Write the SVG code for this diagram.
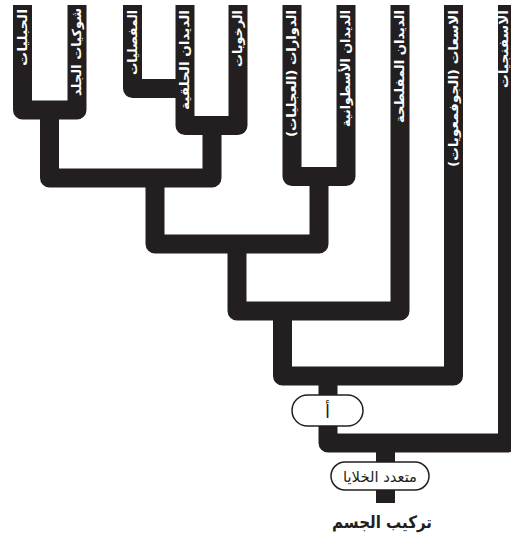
<svg xmlns="http://www.w3.org/2000/svg" width="511" height="542" viewBox="0 0 511 542">
<style>
.ln{fill:none;stroke:#231f20;stroke-width:19;stroke-linejoin:round;stroke-linecap:butt}
.lbl{font-family:"DejaVu Sans",sans-serif;font-weight:bold;font-size:12.5px;fill:#ffffff;text-anchor:end}
.pill{fill:#ffffff;stroke:#231f20;stroke-width:1.5}
.ptxt{font-family:"DejaVu Sans",sans-serif;fill:#231f20;text-anchor:middle}
</style>
<rect width="511" height="542" fill="#ffffff"/>
<g id="connectors">
<path class="ln" d="M22.5,5 V110 H77 V5"/>
<path class="ln" d="M132.5,5 V88.5 H185"/>
<path class="ln" d="M185,5 V125.5 H238 V5"/>
<path class="ln" d="M49.5,110 V178 H212 V125.5"/>
<path class="ln" d="M292,5 V176.5 H346 V5"/>
<path class="ln" d="M155,178 V244 H319 V176.5"/>
<path class="ln" d="M237,244 V311 H400 V5"/>
<path class="ln" d="M282.5,311 V376 H453.5 V5"/>
<path class="ln" d="M328,376 V443 H507.5 V5"/>
<path class="ln" d="M385.5,443 V503"/>
</g>
<g id="n-chordates"><text class="lbl" transform="translate(22.5,9) rotate(-90)" x="0" y="4" textLength="57" lengthAdjust="spacingAndGlyphs">الحبليات</text></g>
<g id="n-echinoderms"><text class="lbl" transform="translate(77,8) rotate(-90)" x="0" y="4" textLength="88" lengthAdjust="spacingAndGlyphs">شوكيات الجلد</text></g>
<g id="n-arthropods"><text class="lbl" transform="translate(132.5,10) rotate(-90)" x="0" y="4" textLength="65" lengthAdjust="spacingAndGlyphs">المفصليات</text></g>
<g id="n-annelids"><text class="lbl" transform="translate(185,10) rotate(-90)" x="0" y="4" textLength="100" lengthAdjust="spacingAndGlyphs">الديدان الحلقية</text></g>
<g id="n-molluscs"><text class="lbl" transform="translate(238,10) rotate(-90)" x="0" y="4" textLength="57" lengthAdjust="spacingAndGlyphs">الرخويات</text></g>
<g id="n-rotifers"><text class="lbl" transform="translate(292,10) rotate(-90)" x="0" y="4" textLength="127" lengthAdjust="spacingAndGlyphs">الدوارات (العجليات)</text></g>
<g id="n-nematodes"><text class="lbl" transform="translate(346,10) rotate(-90)" x="0" y="4" textLength="117" lengthAdjust="spacingAndGlyphs">الديدان الأسطوانية</text></g>
<g id="n-flatworms"><text class="lbl" transform="translate(400,10) rotate(-90)" x="0" y="4" textLength="113" lengthAdjust="spacingAndGlyphs">الديدان المفلطحة</text></g>
<g id="n-cnidarians"><text class="lbl" transform="translate(453.5,10) rotate(-90)" x="0" y="4" textLength="157" lengthAdjust="spacingAndGlyphs">الاسعات (الجوفمعويات)</text></g>
<g id="n-sponges"><text class="lbl" transform="translate(504.5,10) rotate(-90)" x="0" y="3.5" font-size="11" textLength="78" lengthAdjust="spacingAndGlyphs">الاسفنجيات</text></g>
<g id="n-a"><rect class="pill" x="292" y="395" width="71" height="31" rx="15.5"/><text class="ptxt" x="327.5" y="418" font-size="18">أ</text></g>
<g id="n-multicellular"><rect class="pill" x="331" y="462" width="98" height="28" rx="14"/><text class="ptxt" x="380" y="482" font-size="15" textLength="74" lengthAdjust="spacingAndGlyphs">متعدد الخلايا</text></g>
<g id="n-bodyplan"><text class="ptxt" x="382" y="528" font-size="17" font-weight="bold" textLength="100" lengthAdjust="spacingAndGlyphs">تركيب الجسم</text></g>
</svg>
